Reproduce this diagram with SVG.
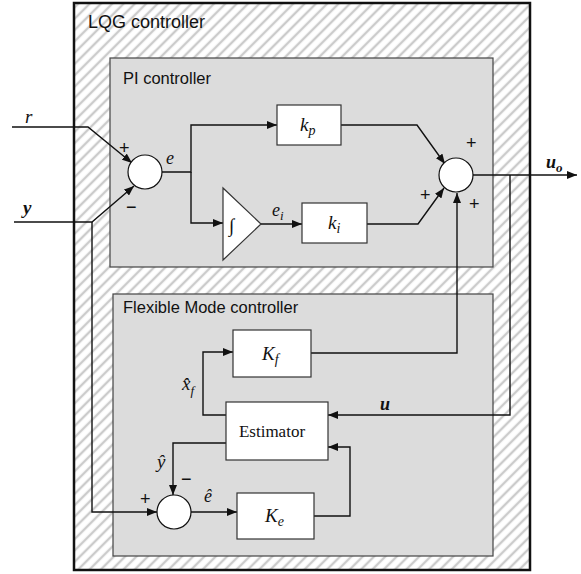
<svg xmlns="http://www.w3.org/2000/svg" width="581" height="574" viewBox="0 0 581 574">
<style>
.lbl{font-family:"Liberation Sans",Arial,sans-serif;fill:#111}
.sym{font-family:"Liberation Serif","Times New Roman",serif;font-style:italic;fill:#111}
.ser{font-family:"Liberation Serif","Times New Roman",serif;fill:#111}
.blk{fill:#fff;stroke:#333;stroke-width:1.2}
.sum{fill:#fff;stroke:#111;stroke-width:1.2}
.ln{fill:none;stroke:#111;stroke-width:1.4}
.sign{font-family:"Liberation Sans",Arial,sans-serif;font-size:18px;fill:#111}
</style>
<defs>
<pattern id="hatch" patternUnits="userSpaceOnUse" width="8" height="8" patternTransform="rotate(45)">
<rect width="8" height="8" fill="#fff"/>
<line x1="2" y1="0" x2="2" y2="8" stroke="#cbcbcb" stroke-width="2.4"/>
</pattern>
<marker id="arr" viewBox="0 0 10 8" refX="10" refY="4" markerWidth="10" markerHeight="8" markerUnits="userSpaceOnUse" orient="auto">
<path d="M0,0 L10,4 L0,8 z" fill="#111"/>
</marker>
</defs>

<g id="lqg">
<rect x="74" y="3" width="456" height="567" fill="url(#hatch)" stroke="#111" stroke-width="2.5"/>
<text class="lbl" x="88" y="28" font-size="18">LQG controller</text>
</g>
<g id="pi">
<rect x="110" y="58" width="383" height="209" fill="#dcdcdc" stroke="#444" stroke-width="1.2"/>
<text class="lbl" x="123" y="84" font-size="16.5">PI controller</text>
</g>
<g id="fm">
<rect x="113" y="294" width="380" height="262" fill="#dcdcdc" stroke="#444" stroke-width="1.2"/>
<text class="lbl" x="123" y="313" font-size="16.5">Flexible Mode controller</text>
</g>

<g id="connectors">
<path class="ln" d="M12,127 L88,127 L132,163" marker-end="url(#arr)"/>
<path class="ln" d="M14,222 L92,222 L134,186" marker-end="url(#arr)"/>
<path class="ln" d="M92,222 L92,512 L157,512" marker-end="url(#arr)"/>
<path class="ln" d="M162,172 L191,172 L191,125 L277,125" marker-end="url(#arr)"/>
<path class="ln" d="M191,172 L191,223 L223,223" marker-end="url(#arr)"/>
<path class="ln" d="M261,224 L302,224" marker-end="url(#arr)"/>
<path class="ln" d="M341,125 L417,125 L445,164" marker-end="url(#arr)"/>
<path class="ln" d="M367,224 L418,224 L444,188" marker-end="url(#arr)"/>
<path class="ln" d="M473,175 L577,175" marker-end="url(#arr)"/>
<path class="ln" d="M510,175 L510,415 L328,415" marker-end="url(#arr)"/>
<path class="ln" d="M311,353 L457,353 L457,193" marker-end="url(#arr)"/>
<path class="ln" d="M226,415 L203,415 L203,352 L233,352" marker-end="url(#arr)"/>
<path class="ln" d="M226,443 L173,443 L173,495" marker-end="url(#arr)"/>
<path class="ln" d="M191,512 L237,512" marker-end="url(#arr)"/>
<path class="ln" d="M314,516 L350,516 L350,447 L328,447" marker-end="url(#arr)"/>
</g>

<g id="sum1">
<circle class="sum" cx="145" cy="172" r="17"/>
<text class="sign" x="119" y="154">+</text>
<text class="sign" x="126" y="213">−</text>
</g>
<g id="sum2">
<circle class="sum" cx="456" cy="175" r="17"/>
<text class="sign" x="466" y="149">+</text>
<text class="sign" x="420" y="201">+</text>
<text class="sign" x="469" y="210">+</text>
</g>
<g id="sum3">
<circle class="sum" cx="174" cy="512" r="17"/>
<text class="sign" x="140" y="505">+</text>
<text class="sign" x="181" y="485">−</text>
</g>

<g id="kp">
<rect class="blk" x="277" y="105" width="64" height="40"/>
<text class="sym" x="300" y="131" font-size="19">k<tspan font-size="14" dy="4">p</tspan></text>
</g>
<g id="integ">
<path class="blk" d="M223,188 L223,260 L261,224 z"/>
<text class="ser" x="229" y="232" font-size="19">∫</text>
</g>
<g id="ki">
<rect class="blk" x="302" y="203" width="65" height="40"/>
<text class="sym" x="328" y="229" font-size="19">k<tspan font-size="14" dy="4">i</tspan></text>
</g>
<g id="Kf">
<rect class="blk" x="233" y="330" width="78" height="47"/>
<text class="sym" x="262" y="360" font-size="19">K<tspan font-size="14" dy="4">f</tspan></text>
</g>
<g id="estimator">
<rect class="blk" x="226" y="402" width="102" height="58"/>
<text class="ser" x="272" y="437" font-size="17" text-anchor="middle">Estimator</text>
</g>
<g id="Ke">
<rect class="blk" x="237" y="493" width="77" height="46"/>
<text class="sym" x="265" y="522" font-size="19">K<tspan font-size="14" dy="4">e</tspan></text>
</g>

<g id="labels">
<text class="sym" x="25" y="123" font-size="19">r</text>
<text class="sym" x="23" y="214" font-size="19" font-weight="bold">y</text>
<text class="sym" x="166" y="164" font-size="18">e</text>
<text class="sym" x="272" y="216" font-size="18">e<tspan font-size="13" dy="4">i</tspan></text>
<text class="sym" x="546" y="168" font-size="18" font-weight="bold">u<tspan font-size="13" dy="4">o</tspan></text>
<text class="sym" x="380" y="410" font-size="18" font-weight="bold">u</text>
<text class="sym" x="182" y="390" font-size="19">x̂<tspan font-size="13" dy="5">f</tspan></text>
<text class="sym" x="157" y="468" font-size="19">ŷ</text>
<text class="sym" x="204" y="502" font-size="18">ê</text>
</g>
</svg>
